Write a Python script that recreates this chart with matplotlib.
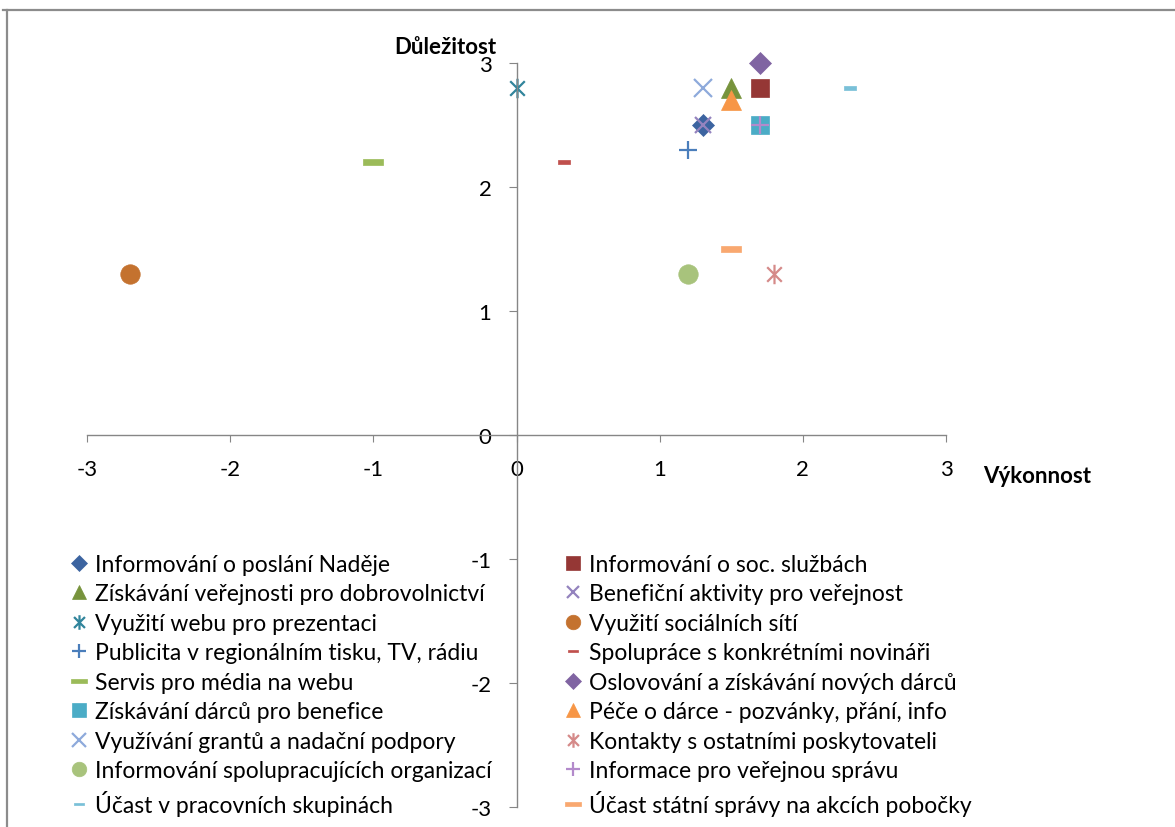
import matplotlib
matplotlib.use("Agg")
import matplotlib.pyplot as plt
from matplotlib.path import Path
from matplotlib.lines import Line2D

plt.rcParams['font.family'] = ['Lato', 'DejaVu Sans']
plt.rcParams['axes.unicode_minus'] = False

# data
names = [
    "Informování o poslání Naděje",
    "Informování o soc. službách",
    "Získávání veřejnosti pro dobrovolnictví",
    "Benefiční aktivity pro veřejnost",
    "Využití webu pro prezentaci",
    "Využití sociálních sítí",
    "Publicita v regionálním tisku, TV, rádiu",
    "Spolupráce s konkrétními novináři",
    "Servis pro média na webu",
    "Oslovování a získávání nových dárců",
    "Získávání dárců pro benefice",
    "Péče o dárce - pozvánky, přání, info",
    "Využívání grantů a nadační podpory",
    "Kontakty s ostatními poskytovateli",
    "Informování spolupracujících organizací",
    "Informace pro veřejnou správu",
    "Účast v pracovních skupinách",
    "Účast státní správy na akcích pobočky",
]
vykonnost = [1.3, 1.7, 1.5, 1.3, 0.0, -2.7, 1.2, 0.33, -1.0,
             1.7, 1.7, 1.5, 1.3, 1.8, 1.2, 1.7, 2.33, 1.5]
dulezitost = [2.5, 2.8, 2.8, 2.5, 2.8, 1.3, 2.3, 2.2, 2.2,
              3.0, 2.5, 2.7, 2.8, 1.3, 1.3, 2.5, 2.8, 1.5]

# marker shapes
star = Path([(0, -1), (0, 1), (-0.75, -0.75), (0.75, 0.75), (-0.75, 0.75), (0.75, -0.75)],
            [Path.MOVETO, Path.LINETO, Path.MOVETO, Path.LINETO, Path.MOVETO, Path.LINETO])
bar = [(-1, -0.25), (1, -0.25), (1, 0.25), (-1, 0.25), (-1, -0.25)]

styles = [
    ('D', '#3C64A0', 11, True),
    ('s', '#953735', 13, True),
    ('^', '#77933C', 14, True),
    ('x', '#9483BE', 12, False),
    (star, '#31859C', 14, False),
    ('o', '#C4722F', 14, True),
    ('+', '#4A7EBB', 13, False),
    (bar, '#C0504D', 9, True),
    (bar, '#9BBB59', 15, True),
    ('D', '#8064A2', 11, True),
    ('s', '#4BACC6', 13, True),
    ('^', '#F79646', 14, True),
    ('x', '#8EAADB', 13, False),
    (star, '#D58A89', 14, False),
    ('o', '#A8C37C', 14, True),
    ('+', '#B38ACB', 13, False),
    (bar, '#79C0D8', 9, True),
    (bar, '#F9A870', 15, True),
]

fig = plt.figure(figsize=(11.75, 8.28), dpi=100)
W, H = 1175, 828
ax = fig.add_axes([87 / W, 1 - 808 / H, (946 - 87) / W, (808 - 64) / H])

handles = []
for i, name in enumerate(names):
    m, c, s, filled = styles[i]
    if filled:
        h, = ax.plot(vykonnost[i], dulezitost[i], linestyle='none', marker=m, markersize=s,
                     markerfacecolor=c, markeredgecolor=c, markeredgewidth=0.5,
                     label=name, clip_on=False)
    else:
        h, = ax.plot(vykonnost[i], dulezitost[i], linestyle='none', marker=m, markersize=s,
                     markerfacecolor='none', markeredgecolor=c, markeredgewidth=1.6,
                     label=name, clip_on=False)
    handles.append(h)

ax.set_xlim(-3, 3)
ax.set_ylim(-3, 3)
ax.set_xticks([-3, -2, -1, 0, 1, 2, 3])
ax.set_yticks([-3, -2, -1, 0, 1, 2, 3])
for side in ['top', 'right']:
    ax.spines[side].set_visible(False)
ax.spines['left'].set_position(('data', 0))
ax.spines['bottom'].set_position(('data', 0))
for side in ['left', 'bottom']:
    ax.spines[side].set_color('#868686')
    ax.spines[side].set_linewidth(1.0)
ax.tick_params(axis='x', direction='out', length=5, color='#868686', labelsize=16, pad=12)
ax.tick_params(axis='y', direction='out', length=6, color='#868686', labelsize=16, pad=12)
ax.patch.set_alpha(0)

fig.text(445 / W, 1 - 47 / H, "Důležitost", fontsize=16, fontweight='bold', ha='center', va='center')
fig.text(1037 / W, 1 - 477 / H, "Výkonnost", fontsize=16, fontweight='bold', ha='center', va='center')

# legend in two columns, row order like Excel
leg_kw = dict(frameon=False, fontsize=16.5, handlelength=0.8, handletextpad=0.3,
              labelspacing=0.37, borderpad=0, borderaxespad=0, loc='upper left',
              markerscale=0.75)
leg1 = fig.legend(handles=handles[0::2], bbox_to_anchor=(70 / W, 1 - 555 / H), **leg_kw)
leg2 = fig.legend(handles=handles[1::2], bbox_to_anchor=(564 / W, 1 - 555 / H), **leg_kw)

# chart border
fig.add_artist(Line2D([3 / W, 1], [1 - 11 / H, 1 - 11 / H], color='#8C8C8C', lw=1.6))
fig.add_artist(Line2D([7 / W, 7 / W], [1 - 11 / H, 0], color='#8C8C8C', lw=1.6))

fig.savefig("out.png", dpi=100)
